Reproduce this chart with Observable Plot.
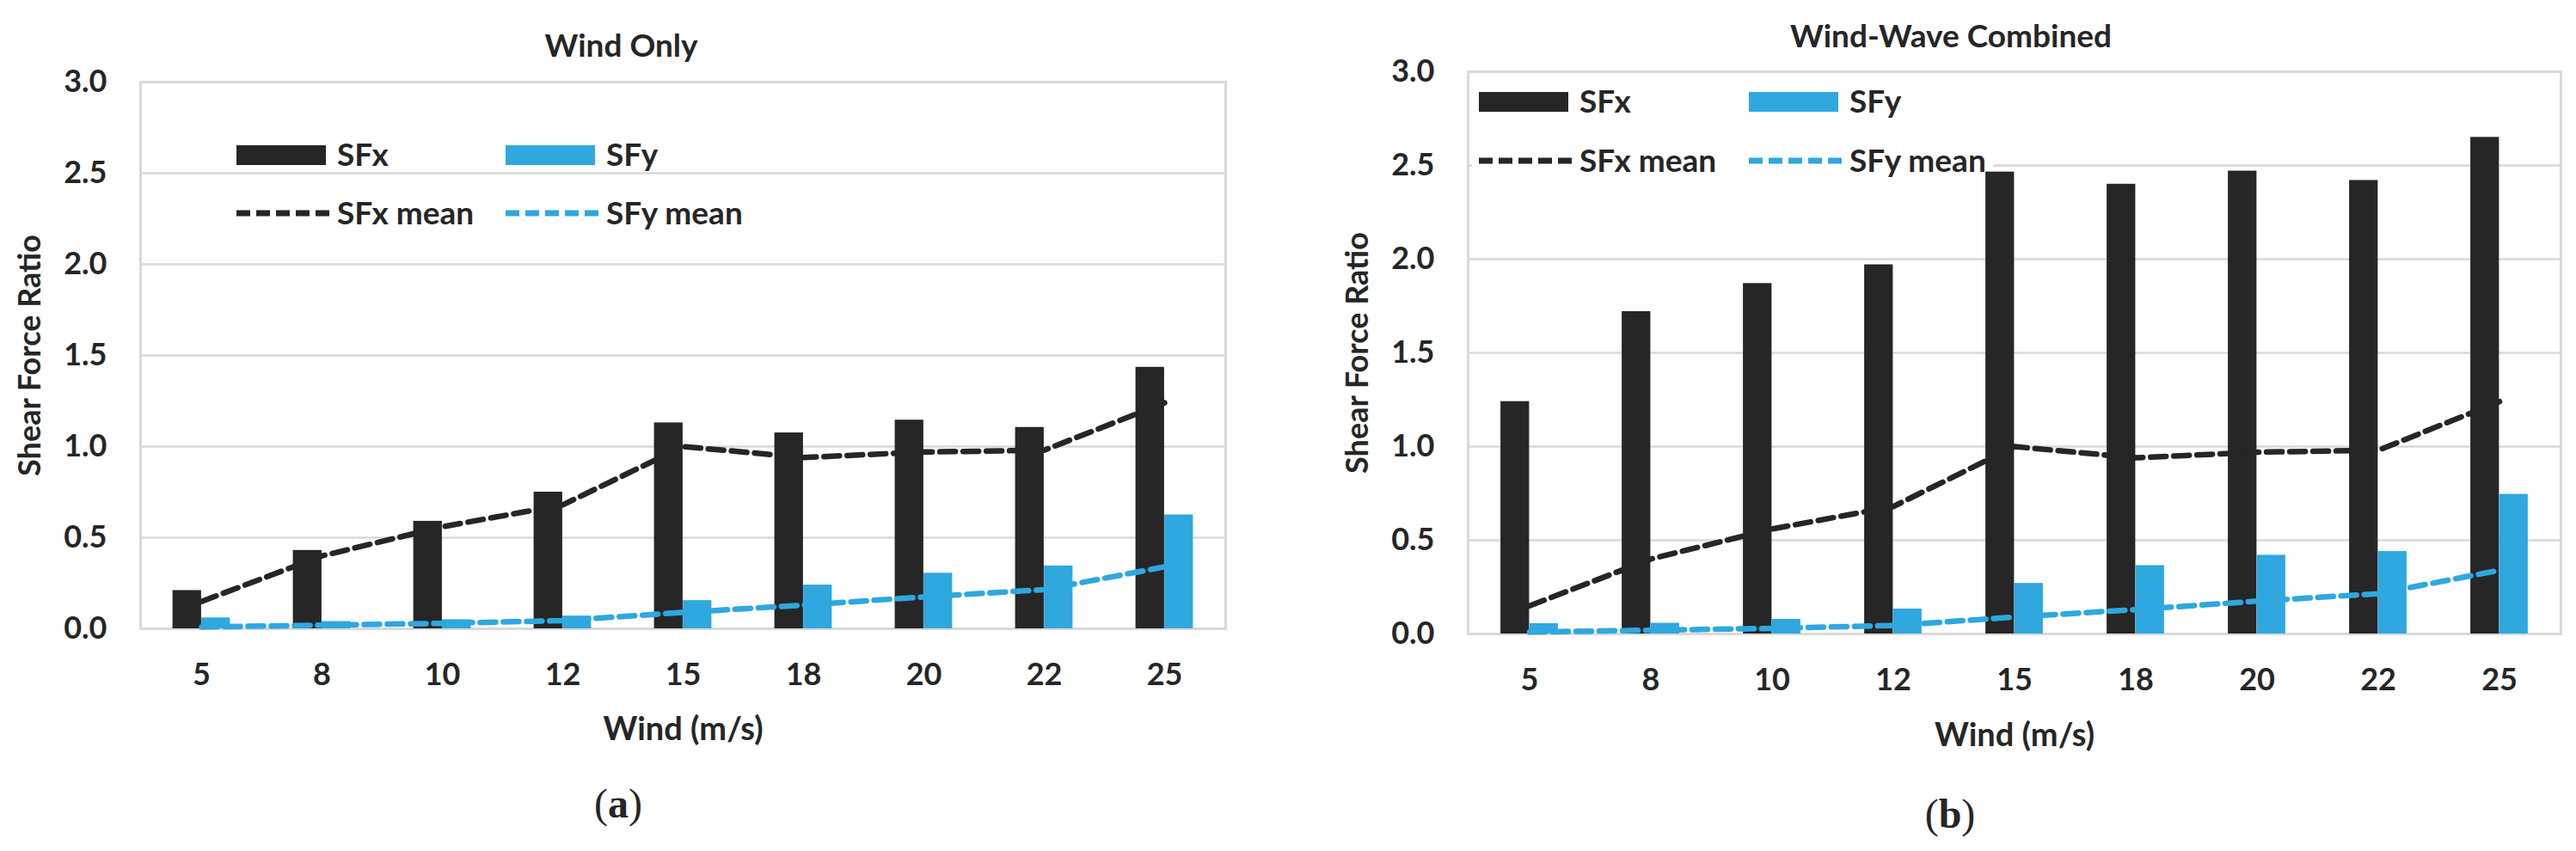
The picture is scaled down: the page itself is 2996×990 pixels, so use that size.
<!DOCTYPE html>
<html><head><meta charset="utf-8">
<script src="https://cdn.jsdelivr.net/npm/d3@7"></script>
<script src="https://cdn.jsdelivr.net/npm/@observablehq/plot@0.6"></script>
<style>
html,body{margin:0;padding:0;background:#fff;}
#wrap{position:relative;width:2996px;height:990px;overflow:hidden;font-family:Lato,"Open Sans",sans-serif;color:#262626;}
.panel{position:absolute;top:0;}
.lgt{position:absolute;font-weight:bold;font-size:37px;height:40px;line-height:40px;white-space:nowrap;color:#262626;}
.sw{position:absolute;}
.cap{position:absolute;font-family:"Liberation Serif","DejaVu Serif",serif;font-size:48px;line-height:60px;height:60px;width:200px;text-align:center;color:#262626;}
.lgbox{position:absolute;background:#fff;}
</style></head><body><div id="wrap"></div>
<script>
// ---- data ----
const winds = ["5", "8", "10", "12", "15", "18", "20", "22", "25"];
const windOnlySFx = [0.21, 0.43, 0.59, 0.75, 1.13, 1.075, 1.145, 1.105, 1.435];
const windOnlySFy = [0.06, 0.04, 0.05, 0.07, 0.155, 0.24, 0.305, 0.345, 0.625];
const combinedSFx = [1.24, 1.72, 1.87, 1.97, 2.465, 2.40, 2.47, 2.42, 2.65];
const combinedSFy = [0.055, 0.057, 0.078, 0.133, 0.27, 0.365, 0.42, 0.44, 0.745];
const sfxMean = [0.15, 0.40, 0.56, 0.68, 1.00, 0.94, 0.97, 0.98, 1.24];
const sfyMean = [0.01, 0.02, 0.03, 0.045, 0.09, 0.13, 0.175, 0.215, 0.34];
const yTicks = [0, 0.5, 1.0, 1.5, 2.0, 2.5, 3.0];
const seriesNames = ["SFx", "SFy", "SFx mean", "SFy mean"];
const titles = ["Wind Only", "Wind-Wave Combined"];
const captions = ["a", "b"];
const xTitle = "Wind (m/s)";
const yTitle = "Shear Force Ratio";

const colX = "#262626", colY = "#2EA8DF";
const wrap = document.getElementById("wrap");

function table(vals) { return winds.map((w, i) => ({wind: w, value: vals[i]})); }

function panel(cfg) {
  const bw = (cfg.width - cfg.ml - cfg.mr) / winds.length;
  const barW = 33.5;
  const txt = {fontWeight: "bold", fill: "#262626", lineAnchor: "middle", textAnchor: "middle"};
  const chart = Plot.plot({
    width: cfg.width, height: 990,
    marginLeft: cfg.ml, marginRight: cfg.mr, marginTop: cfg.mt, marginBottom: cfg.mb,
    style: {fontFamily: "Lato, 'Open Sans', sans-serif", color: "#262626", background: "transparent"},
    x: {type: "band", domain: winds, padding: 0},
    y: {domain: [0, 3]},
    marks: [
      Plot.gridY(yTicks, {stroke: "#d9d9d9", strokeOpacity: 1, strokeWidth: 2.5}),
      Plot.frame({stroke: "#d9d9d9", strokeWidth: 3}),
      Plot.barY(table(cfg.sfx), {x: "wind", y: "value", fill: colX, insetLeft: bw / 2 - barW, insetRight: bw / 2}),
      Plot.barY(table(cfg.sfy), {x: "wind", y: "value", fill: colY, insetLeft: bw / 2, insetRight: bw / 2 - barW}),
      Plot.lineY(table(sfxMean), {x: "wind", y: "value", stroke: colX, strokeWidth: 6.5, strokeDasharray: "18,9"}),
      Plot.lineY(table(sfyMean), {x: "wind", y: "value", stroke: colY, strokeWidth: 6.5, strokeDasharray: "18,9"}),
      Plot.axisX({tickSize: 0, tickPadding: 40, fontSize: 36, fontWeight: "bold", label: null}),
      Plot.axisY({ticks: yTicks, tickSize: 0, tickPadding: 39, tickFormat: d3.format(".1f"), fontSize: 36, fontWeight: "bold", label: null}),
      Plot.text([cfg.title], {...txt, frameAnchor: "top", dx: cfg.titleDx, dy: cfg.titleDy, fontSize: 37}),
      Plot.text([xTitle], {...txt, frameAnchor: "bottom", dy: cfg.xtDy, fontSize: 38}),
      Plot.text([yTitle], {...txt, frameAnchor: "left", dx: -128, rotate: -90, fontSize: 36})
    ]
  });
  const div = document.createElement("div");
  div.className = "panel";
  div.style.left = cfg.left + "px";
  div.appendChild(chart);
  wrap.appendChild(div);

  // legend
  const L = cfg.legend;
  if (L.box) {
    const b = document.createElement("div");
    b.className = "lgbox";
    Object.assign(b.style, {left: L.box[0] + "px", top: L.box[1] + "px", width: L.box[2] + "px", height: L.box[3] + "px"});
    wrap.appendChild(b);
  }
  const cols = [L.c1, L.c2];
  const colors = [colX, colY];
  for (let k = 0; k < 2; k++) {
    const c = cols[k];
    const s = document.createElement("div");
    s.className = "sw";
    Object.assign(s.style, {left: c + "px", top: (L.r1 - 11.5) + "px", width: "104px", height: "23px", background: colors[k]});
    wrap.appendChild(s);
    const ns = "http://www.w3.org/2000/svg";
    const svg = document.createElementNS(ns, "svg");
    svg.setAttribute("width", "112"); svg.setAttribute("height", "12");
    svg.style.position = "absolute";
    svg.style.left = (c - 2) + "px"; svg.style.top = (L.r2 - 6) + "px";
    const ln = document.createElementNS(ns, "line");
    ln.setAttribute("x1", "2"); ln.setAttribute("x2", "110");
    ln.setAttribute("y1", "6"); ln.setAttribute("y2", "6");
    ln.setAttribute("stroke", colors[k]); ln.setAttribute("stroke-width", "7");
    ln.setAttribute("stroke-dasharray", "16,7");
    svg.appendChild(ln);
    wrap.appendChild(svg);
    const t1 = document.createElement("div");
    t1.className = "lgt"; t1.textContent = seriesNames[k];
    Object.assign(t1.style, {left: (c + 117) + "px", top: (L.r1 - 21) + "px"});
    wrap.appendChild(t1);
    const t2 = document.createElement("div");
    t2.className = "lgt"; t2.textContent = seriesNames[k + 2];
    Object.assign(t2.style, {left: (c + 117) + "px", top: (L.r2 - 21) + "px"});
    wrap.appendChild(t2);
  }
  const cap = document.createElement("div");
  cap.className = "cap";
  cap.innerHTML = "(<b>" + cfg.caption + "</b>)";
  Object.assign(cap.style, {left: (cfg.capX - 100) + "px", top: (cfg.capY - 30) + "px"});
  wrap.appendChild(cap);
}

panel({left: 0, width: 1498, ml: 163, mr: 73, mt: 95, mb: 259,
  sfx: windOnlySFx, sfy: windOnlySFy, title: titles[0], titleDx: -72, titleDy: -41, xtDy: 117,
  legend: {c1: 275, c2: 588, r1: 180, r2: 248},
  caption: captions[0], capX: 719, capY: 935});

panel({left: 1498, width: 1498, ml: 209, mr: 18, mt: 83, mb: 253,
  sfx: combinedSFx, sfy: combinedSFy, title: titles[1], titleDx: -74, titleDy: -40, xtDy: 118,
  legend: {c1: 1720, c2: 2034, r1: 118, r2: 187, box: [1712, 92, 606, 104]},
  caption: captions[1], capX: 2268, capY: 947});
</script>
</body></html>
